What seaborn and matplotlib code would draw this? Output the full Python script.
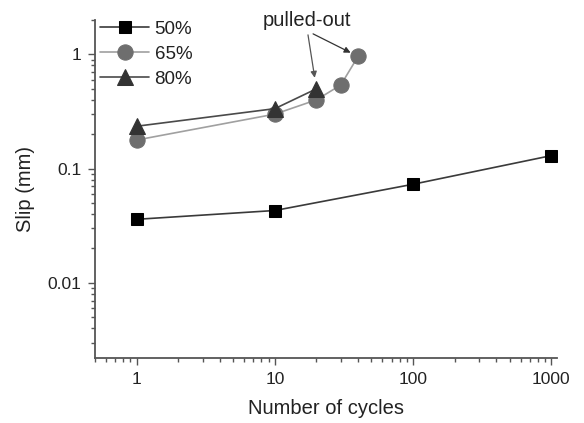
import matplotlib
matplotlib.use("Agg")
import matplotlib.pyplot as plt
import seaborn as sns
from matplotlib.ticker import LogLocator, NullFormatter

# data
cycles_50 = [1, 10, 100, 1000]
slip_50 = [0.036, 0.043, 0.073, 0.13]
cycles_65 = [1, 10, 20, 30, 40]
slip_65 = [0.178, 0.30, 0.40, 0.54, 0.96]
cycles_80 = [1, 10, 20]
slip_80 = [0.235, 0.335, 0.50]

x_ticks = [1, 10, 100, 1000]
x_tick_labels = ["1", "10", "100", "1000"]
y_ticks = [0.01, 0.1, 1]
y_tick_labels = ["0.01", "0.1", "1"]

sns.set_style("ticks")
plt.rcParams["font.family"] = ["Liberation Sans", "DejaVu Sans"]

fig = plt.figure(figsize=(5.84, 4.23), dpi=100)
ax = fig.add_axes([0.1627, 0.1537, 0.7911, 0.799])

sns.lineplot(x=cycles_50, y=slip_50, ax=ax, sort=False, color="#3a3a3a", lw=1.2,
             marker="s", markersize=9, markerfacecolor="black", markeredgecolor="black",
             label="50%")
sns.lineplot(x=cycles_65, y=slip_65, ax=ax, sort=False, color="#a0a0a0", lw=1.2,
             marker="o", markersize=11, markerfacecolor="#6e6e6e", markeredgecolor="#6e6e6e",
             label="65%")
sns.lineplot(x=cycles_80, y=slip_80, ax=ax, sort=False, color="#4a4a4a", lw=1.2,
             marker="^", markersize=11, markerfacecolor="#333333", markeredgecolor="#333333",
             label="80%")

ax.set_xscale("log")
ax.set_yscale("log")
ax.set_xlim(0.5, 1100)
ax.set_ylim(0.0022, 2.0)

ax.set_xticks(x_ticks, x_tick_labels)
ax.set_yticks(y_ticks, y_tick_labels)
ax.xaxis.set_minor_locator(LogLocator(base=10, subs=range(2, 10)))
ax.yaxis.set_minor_locator(LogLocator(base=10, subs=range(2, 10)))
ax.xaxis.set_minor_formatter(NullFormatter())
ax.yaxis.set_minor_formatter(NullFormatter())

sns.despine(ax=ax)
for side in ("left", "bottom"):
    ax.spines[side].set_color("#555555")
    ax.spines[side].set_linewidth(1.3)
ax.tick_params(which="major", direction="out", length=5, width=1, color="#555555",
               labelsize=12.5, labelcolor="#222222", pad=5)
ax.tick_params(which="minor", direction="out", length=3, width=1, color="#555555")

ax.set_xlabel("Number of cycles", fontsize=14.5, color="#222222", labelpad=9)
ax.set_ylabel("Slip (mm)", fontsize=14.5, color="#222222", labelpad=9)

leg = ax.legend(loc="upper left", bbox_to_anchor=(-0.005, 1.02), frameon=False,
                fontsize=13.5, handlelength=2.6, handletextpad=0.3, labelspacing=0.42,
                borderaxespad=0)
for t in leg.get_texts():
    t.set_color("#222222")

# "pulled-out" label with arrows to the last 80% and 65% points
ax.annotate("pulled-out", xy=(0.459, 1.0), xycoords="axes fraction",
            ha="center", va="center", fontsize=14.5, color="#222222", annotation_clip=False)
ax.annotate("", xy=(cycles_80[-1], slip_80[-1]), xytext=(0.461, 0.956),
            textcoords="axes fraction",
            arrowprops=dict(arrowstyle="-|>", color="#555555", lw=0.9, shrinkA=0, shrinkB=8,
                            mutation_scale=9))
ax.annotate("", xy=(cycles_65[-1], slip_65[-1]), xytext=(0.472, 0.959),
            textcoords="axes fraction",
            arrowprops=dict(arrowstyle="-|>", color="#333333", lw=0.9, shrinkA=0, shrinkB=6,
                            mutation_scale=9))

fig.savefig("out.png", dpi=100)
